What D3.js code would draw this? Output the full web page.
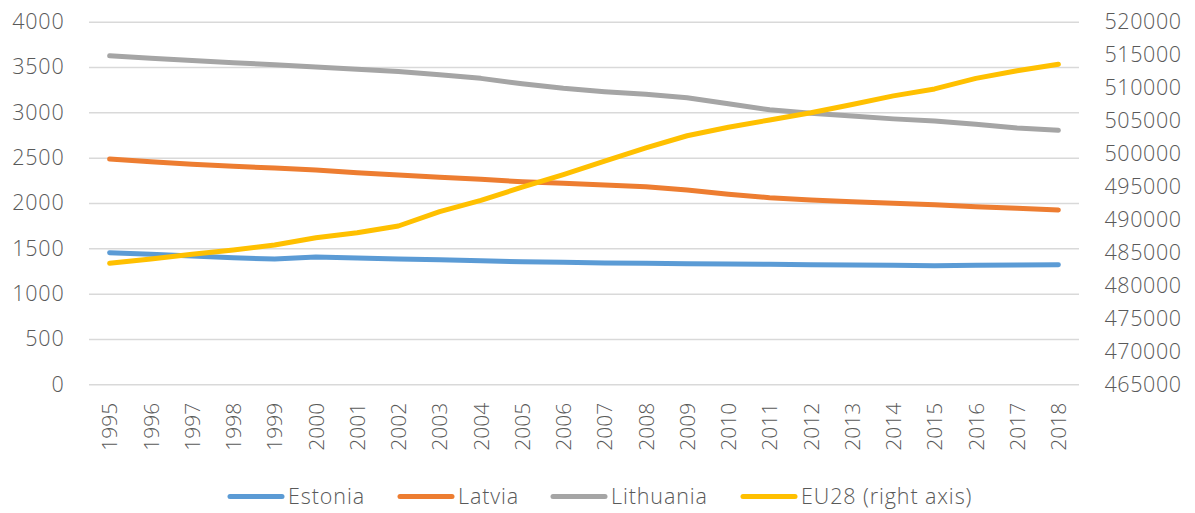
<!DOCTYPE html>
<html>
<head>
<meta charset="utf-8">
<script src="https://cdn.jsdelivr.net/npm/d3@7"></script>
<style>
  body { margin: 0; background: #fff; }
  text { font-family: "Open Sans", sans-serif; font-weight: 300; fill: #595959; }
</style>
</head>
<body>
<div class="chart"></div>
<script>
// Data
var years = ["1995","1996","1997","1998","1999","2000","2001","2002","2003","2004","2005","2006",
  "2007","2008","2009","2010","2011","2012","2013","2014","2015","2016","2017","2018"];
var estonia = [1452,1434,1415,1396,1382,1404,1393,1382,1374,1363,1352,1346,
  1338,1335,1330,1327,1324,1319,1316,1312,1308,1312,1315,1319];
var latvia = [2485,2455,2427,2405,2386,2364,2334,2309,2283,2261,2235,2217,
  2198,2180,2143,2096,2058,2033,2014,1996,1981,1959,1941,1923];
var lithuania = [3624,3598,3572,3548,3525,3500,3475,3450,3415,3375,3315,3265,
  3228,3200,3162,3095,3028,2989,2959,2928,2905,2868,2827,2802];
var eu28 = [483350,484010,484720,485370,486130,487240,488000,489010,491180,492900,494900,496800,
  498850,500850,502700,504000,505100,506200,507450,508750,509800,511400,512550,513550];
var leftTicks = [0,500,1000,1500,2000,2500,3000,3500,4000];
var rightTicks = [465000,470000,475000,480000,485000,490000,495000,500000,505000,510000,515000,520000];

var series = [
  { name: "Estonia", values: estonia, color: "#5B9BD5", axis: "left" },
  { name: "Latvia", values: latvia, color: "#ED7D31", axis: "left" },
  { name: "Lithuania", values: lithuania, color: "#A5A5A5", axis: "left" },
  { name: "EU28 (right axis)", values: eu28, color: "#FFC000", axis: "right" }
];

var svgWidth = 1195, svgHeight = 513;
var plot = { left: 89, right: 1079, top: 21.7, bottom: 384.3 };

var svg = d3.select(".chart").append("svg")
  .attr("width", svgWidth)
  .attr("height", svgHeight);

// Scales
var x = d3.scalePoint().domain(years).range([plot.left, plot.right]).padding(0.5);
var yLeft = d3.scaleLinear().domain([0, 4000]).range([plot.bottom, plot.top]);
var yRight = d3.scaleLinear().domain([465000, 520000]).range([plot.bottom, plot.top]);

// Gridlines
svg.append("g")
  .attr("transform", `translate(${plot.left},0)`)
  .call(d3.axisLeft(yLeft).tickValues(leftTicks).tickSize(-(plot.right - plot.left)).tickFormat(""))
  .call(g => g.select(".domain").remove())
  .call(g => g.selectAll("line").attr("stroke", "#D9D9D9").attr("stroke-width", 1.5));

// Left axis labels
svg.append("g")
  .attr("transform", "translate(64.5,0)")
  .call(d3.axisLeft(yLeft).tickValues(leftTicks).tickSize(0).tickPadding(0).tickFormat(d3.format("d")))
  .call(g => g.select(".domain").remove())
  .call(g => g.selectAll("text").style("font-size", "21.5px").style("letter-spacing", "0.8px"));

// Right axis labels
svg.append("g")
  .attr("transform", "translate(1104.5,0)")
  .call(d3.axisRight(yRight).tickValues(rightTicks).tickSize(0).tickPadding(0).tickFormat(d3.format("d")))
  .call(g => g.select(".domain").remove())
  .call(g => g.selectAll("text").style("font-size", "21.5px").style("letter-spacing", "0.6px"));

// X axis labels
svg.append("g")
  .attr("transform", `translate(0,${plot.bottom})`)
  .call(d3.axisBottom(x).tickSize(0).tickPadding(0))
  .call(g => g.select(".domain").remove())
  .call(g => g.selectAll("text")
    .style("font-size", "21px")
    .attr("text-anchor", "end")
    .attr("transform", "rotate(-90)")
    .attr("x", -18.5)
    .attr("y", 0)
    .attr("dy", "0.35em"));

// Lines
series.forEach(function (s) {
  var yScale = s.axis === "left" ? yLeft : yRight;
  var line = d3.line()
    .x((d, i) => x(years[i]))
    .y(d => yScale(d));
  svg.append("path")
    .datum(s.values)
    .attr("fill", "none")
    .attr("stroke", s.color)
    .attr("stroke-width", 5)
    .attr("stroke-linecap", "round")
    .attr("stroke-linejoin", "round")
    .attr("d", line);
});

// Legend
var legendX = [228, 398, 551, 741];
var legend = svg.append("g").attr("transform", "translate(0,496.5)");
series.forEach(function (s, i) {
  var g = legend.append("g").attr("transform", `translate(${legendX[i]},0)`);
  g.append("line")
    .attr("x1", 2).attr("x2", 54)
    .attr("stroke", s.color)
    .attr("stroke-width", 5)
    .attr("stroke-linecap", "round");
  g.append("text")
    .attr("x", 60)
    .attr("dy", "0.33em")
    .style("font-size", "21.5px")
    .style("letter-spacing", "0.9px")
    .text(s.name);
});
</script>
</body>
</html>
